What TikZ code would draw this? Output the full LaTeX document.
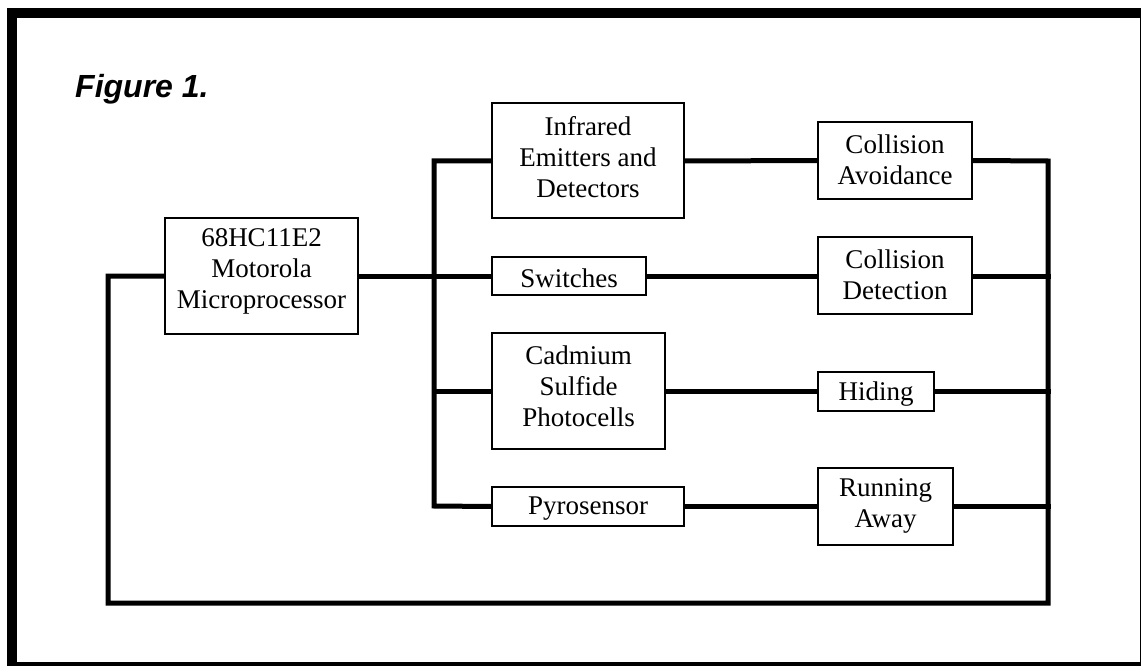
\documentclass[tikz,border=0pt]{standalone}
\usepackage{fontspec}
\setmainfont{Liberation Serif}
\newfontfamily\titlefont{Liberation Sans}
\pgfdeclarelayer{wires}
\pgfsetlayers{wires,main}
\begin{document}
\begin{tikzpicture}[x=1pt,y=-1pt,
  blk/.style={draw=black,line width=1.5pt,fill=white,inner sep=0pt},
  txt/.style={align=center,inner sep=0pt,font=\fontsize{27}{31}\selectfont},
  wire/.style={line width=5pt,line join=miter,line cap=rect},
  frame/.style={line width=10pt}]
\useasboundingbox (0,0) rectangle (1141,666);
\draw[frame] (12,13) rectangle (1145,667);
\node[anchor=base west,inner sep=0pt,font=\titlefont\fontsize{32}{36}\selectfont\bfseries\itshape] (title) at (75,98) {Figure 1.};
% coordinates
\coordinate (LT) at (434,161);
\coordinate (LB) at (434,506);
\coordinate (RT) at (1048,161);
\coordinate (RB) at (1048,603);
\coordinate (LL) at (108,276);
\coordinate (LLB) at (108,603);
% boxes
\node[blk,minimum width=193pt,minimum height=116pt] (micro) at (261.5,276) {};
\node[blk,minimum width=192pt,minimum height=115pt] (ir) at (588,160.5) {};
\node[blk,minimum width=154pt,minimum height=38pt] (sw) at (569,276) {};
\node[blk,minimum width=173pt,minimum height=116pt] (cd) at (578.5,391) {};
\node[blk,minimum width=192pt,minimum height=39pt] (py) at (588,506.5) {};
\node[blk,minimum width=154pt,minimum height=77pt] (ca) at (895,160.5) {};
\node[blk,minimum width=154pt,minimum height=77pt] (cdet) at (895,275.5) {};
\node[blk,minimum width=116pt,minimum height=39pt] (hid) at (876,391.5) {};
\node[blk,minimum width=135pt,minimum height=77pt] (ra) at (885.5,506.5) {};
% texts
\node[txt] (microT) at (261.5,271.5) {68HC11E2\\Motorola\\Microprocessor};
\node[txt] (irT) at (588,157) {Infrared\\Emitters and\\Detectors};
\node[txt] (swT) at (569,278.5) {Switches};
\node[txt] (cdT) at (578.5,386.5) {Cadmium\\Sulfide\\Photocells};
\node[txt] (pyT) at (588,508.5) {Pyrosensor};
\node[txt] (caT) at (895,160) {Collision\\Avoidance};
\node[txt] (cdetT) at (895,275) {Collision\\Detection};
\node[txt] (hidT) at (876,394) {Hiding};
\node[txt] (raT) at (885.5,506) {Running\\Away};
% wires (behind the boxes)
\begin{pgfonlayer}{wires}
\draw[wire] (micro.west) -- (LL) -- (LLB) -- (RB) -- (RT) -- (ca.east);
\draw[wire] (ir.west |- LT) -- (LT) -- (LB) -- (py.west);
\draw[wire] (micro.east) -- (sw.west);
\draw[wire] (cd.west) -- (cd.west -| LT);
\draw[wire] (ir.east |- LT) -- (ca.west);
\draw[wire] (sw.east) -- (sw.east -| cdet.west);
\draw[wire] (cd.east) -- (hid.west |- cd.east);
\draw[wire] (py.east) -- (py.east -| ra.west);
\draw[wire] (cdet.east |- sw.east) -- (sw.east -| RT);
\draw[wire] (hid.east |- cd.east) -- (cd.east -| RT);
\draw[wire] (ra.east |- py.east) -- (py.east -| RT);
\end{pgfonlayer}
\end{tikzpicture}
\end{document}
